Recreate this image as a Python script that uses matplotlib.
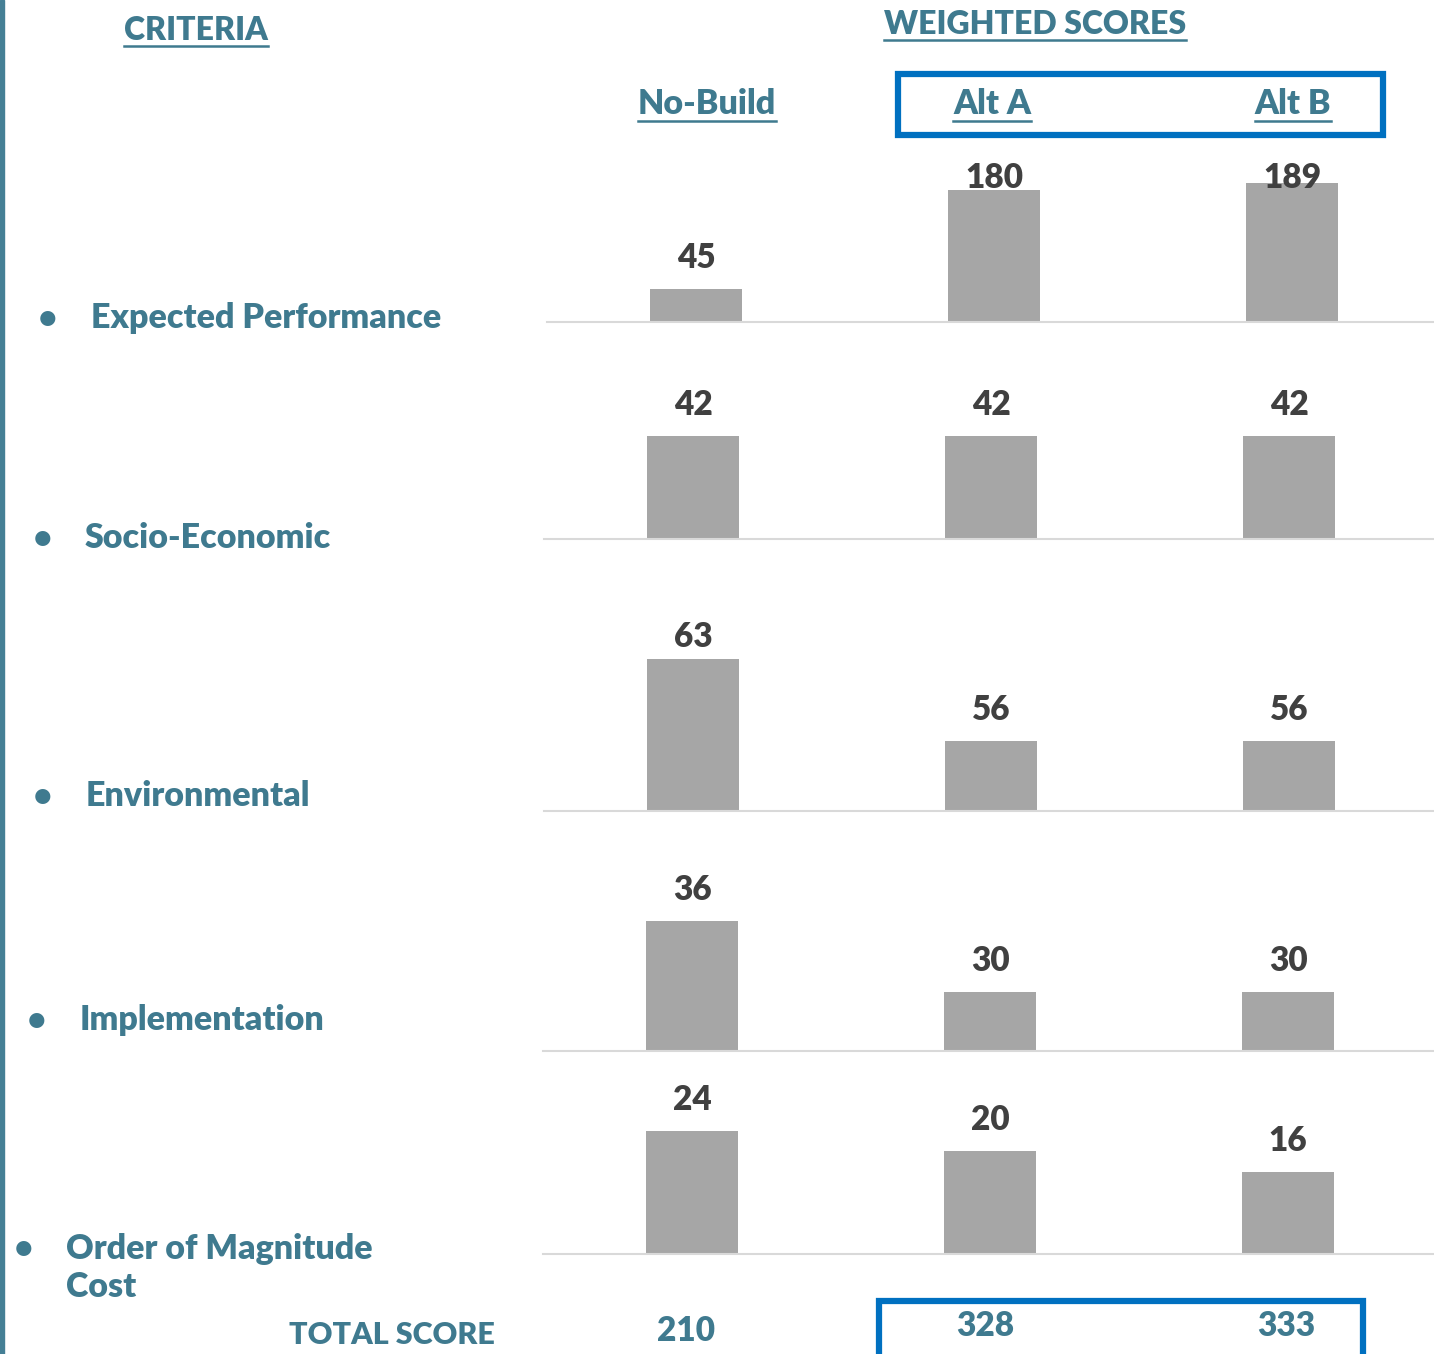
import matplotlib.pyplot as plt
from matplotlib.patches import Rectangle
from matplotlib.lines import Line2D

W, H = 1434, 1354

# data
alternatives = ['No-Build', 'Alt A', 'Alt B']
criteria = ['Expected Performance', 'Socio-Economic', 'Environmental',
            'Implementation', 'Order of Magnitude\nCost']
perf = [45, 180, 189]
socio = [42, 42, 42]
envir = [63, 56, 56]
implem = [36, 30, 30]
cost = [24, 20, 16]
totals = [210, 328, 333]
row_values = [perf, socio, envir, implem, cost]
# each small chart has its own value axis
y_limits = [(0, 221), (0, 65), (50, 66.4), (25, 40.3), (0, 34.8)]

teal = '#3f7a8f'
dark = '#404040'
bar_grey = '#a6a6a6'
blue = '#0070c0'
font = 'Lato'
wt = 'heavy'

plt.rcParams['font.family'] = [font, 'DejaVu Sans']

dy = 3  # text sits a little lower than its bbox centre


def fx(x):
    return x / W


def fy(y):
    return 1 - y / H


fig = plt.figure(figsize=(W / 100, H / 100), dpi=100)

# row layout in pixels: baseline, top, left edge
rows_px = [(322, 160, 547), (539, 380, 544), (811, 619, 544),
           (1051, 870, 543), (1254, 1075, 543)]
label_gap = 31   # px between bar top and label centre
top_pad = 18     # labels can't go above this

for vals, (ymin, ymax), (base, top, left) in zip(row_values, y_limits, rows_px):
    ax = fig.add_axes([fx(left), fy(base), 894 / W, (base - top) / H])
    xs = range(len(vals))
    ax.bar(xs, vals, width=0.31, color=bar_grey, bottom=0)
    ax.set_xlim(-0.5, 2.5)
    ax.set_ylim(ymin, ymax)
    scale = (base - top) / (ymax - ymin)
    for x, v in zip(xs, vals):
        ly = min(v + label_gap / scale, ymax - top_pad / scale)
        ax.text(x, ly, str(v), ha='center', va='center', fontsize=24,
                fontweight=wt, color=dark, clip_on=False)
    for s in ['top', 'left', 'right']:
        ax.spines[s].set_visible(False)
    ax.spines['bottom'].set_color('#d9d9d9')
    ax.spines['bottom'].set_linewidth(1.5)
    ax.set_xticks([])
    ax.set_yticks([])
    ax.patch.set_alpha(0)

# criteria labels with bullets
crit_px = [(48, 91, 315), (43, 85, 535), (43, 86, 793), (37, 80, 1017), (24, 66, 1245)]
for name, (bx, tx, ty) in zip(criteria, crit_px):
    fig.text(fx(bx), fy(ty + dy), '\u2022', ha='center', va='center', fontsize=22,
             color=teal, fontweight=wt)
    n_lines = name.count('\n') + 1
    fig.text(fx(tx), fy(ty + dy + 20 * (n_lines - 1)), name, ha='left', va='center',
             fontsize=24.5, color=teal, fontweight=wt, linespacing=1.25)

fig.canvas.draw()
renderer = fig.canvas.get_renderer()


def underlined(x, y, s, size):
    t = fig.text(fx(x), fy(y + dy), s, ha='center', va='center', fontsize=size,
                 color=teal, fontweight=wt)
    bb = t.get_window_extent(renderer)
    uy = bb.y0 - 1
    fig.add_artist(Line2D([bb.x0 / W, bb.x1 / W], [uy / H, uy / H],
                          color=teal, linewidth=1.8))
    return t


underlined(196, 27, 'CRITERIA', 23)
underlined(1035, 21, 'WEIGHTED SCORES', 23)
alt_x = [707, 992, 1293]
for name, x in zip(alternatives, alt_x):
    underlined(x, 101, name, 24.5)

# totals row
fig.text(fx(392), fy(1332 + dy), 'TOTAL SCORE', ha='center', va='center',
         fontsize=22, color=teal, fontweight=wt)
total_px = [(686, 1328), (985, 1323), (1286, 1323)]
for v, (x, y) in zip(totals, total_px):
    fig.text(fx(x), fy(y + dy), str(v), ha='center', va='center',
             fontsize=24, color=teal, fontweight=wt)

# blue highlight boxes
fig.add_artist(Rectangle((fx(898), fy(135)), (1383 - 898) / W, (135 - 74) / H,
                         fill=False, edgecolor=blue, linewidth=4.5,
                         transform=fig.transFigure))
fig.add_artist(Rectangle((fx(879), fy(1380)), (1363 - 879) / W, (1380 - 1301) / H,
                         fill=False, edgecolor=blue, linewidth=4.5,
                         transform=fig.transFigure))

# left edge stripe
fig.add_artist(Rectangle((0, 0), 4 / W, 1, color='#457f95',
                         transform=fig.transFigure))

fig.savefig('out.png', dpi=100)
